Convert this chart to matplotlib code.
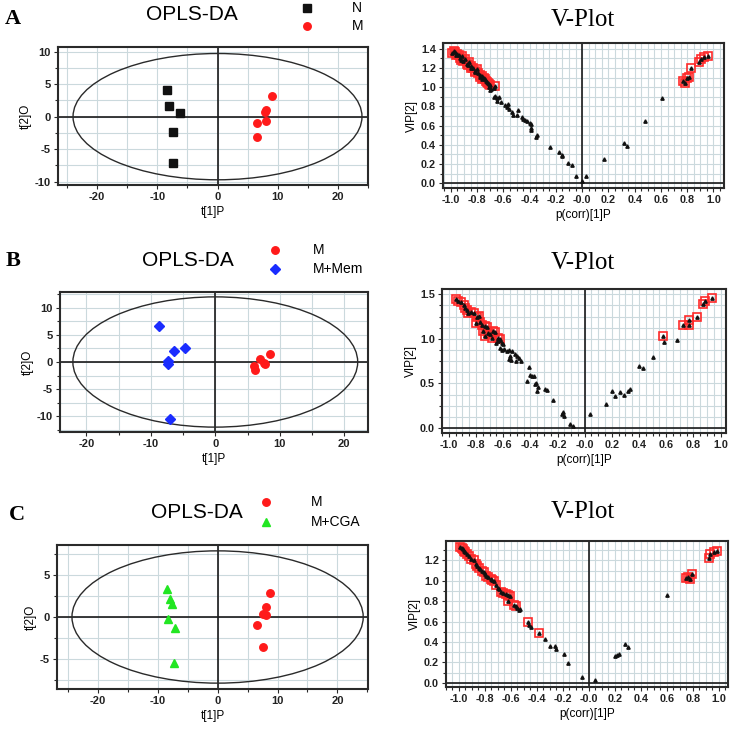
import numpy as np
import matplotlib
matplotlib.use('Agg')
import matplotlib.pyplot as plt
from matplotlib.patches import Ellipse
from matplotlib.lines import Line2D
from matplotlib.ticker import MultipleLocator

plt.rcParams['font.family'] = ['Liberation Sans', 'DejaVu Sans']
plt.rcParams['axes.unicode_minus'] = False

# ---------- OPLS-DA score plots: t[1]P (x) vs t[2]O (y) ----------
# A: N vs M
a_n_x = [-8.4, -8.1, -6.3, -7.4, -7.4]
a_n_y = [4.1, 1.6, 0.5, -2.4, -7.1]
a_m_x = [9.1, 8.1, 7.9, 8.0, 6.5, 6.5]
a_m_y = [3.2, 1.0, 0.7, -0.7, -0.9, -3.1]
# B: M vs M+Mem
b_m_x = [7.0, 8.5, 7.6, 7.7, 6.0, 6.2]
b_m_y = [0.6, 1.5, -0.2, -0.4, -0.8, -1.4]
b_mem_x = [-8.7, -6.4, -4.7, -7.3, -7.3, -7.1]
b_mem_y = [6.6, 2.0, 2.6, 0.2, -0.4, -10.5]
# C: M vs M+CGA
c_m_x = [8.7, 8.1, 7.5, 8.1, 6.6, 7.6]
c_m_y = [2.9, 1.2, 0.3, 0.2, -1.0, -3.6]
c_cga_x = [-8.4, -7.9, -7.6, -8.2, -7.1, -7.3]
c_cga_y = [3.3, 2.2, 1.6, -0.2, -1.35, -5.5]

# Hotelling T2 ellipse semi-axes (t[1], t[2]) for A, B, C
ell_a = [24.0, 22.1, 24.3]
ell_b = [9.7, 12.0, 7.9]

score_xticks = [-20, -10, 0, 10, 20]
a_yticks = [-10, -5, 0, 5, 10]
b_yticks = [-10, -5, 0, 5, 10]
c_yticks = [-5, 0, 5]

# ---------- V-plots: p(corr)[1]P (x) vs VIP[2] (y) ----------
# red-boxed (selected) variables
va_sel_x = [-0.98, -0.99, -0.97, -0.96, -0.955, -0.94, -0.93, -0.92, -0.915, -0.905,
            -0.89, -0.88, -0.87, -0.865, -0.85, -0.845, -0.83, -0.82, -0.815, -0.80,
            -0.79, -0.78, -0.775, -0.765, -0.76, -0.75, -0.74, -0.73, -0.725, -0.72,
            -0.71, -0.70, -0.665,
            0.77, 0.785, 0.80, 0.81, 0.83, 0.89, 0.905, 0.93, 0.96]
va_sel_y = [1.38, 1.36, 1.37, 1.33, 1.35, 1.34, 1.30, 1.28, 1.32, 1.27,
            1.29, 1.24, 1.23, 1.26, 1.20, 1.22, 1.20, 1.16, 1.17, 1.19,
            1.15, 1.11, 1.13, 1.12, 1.08, 1.10, 1.08, 1.06, 1.05, 1.04,
            1.03, 1.02, 1.01,
            1.06, 1.04, 1.10, 1.11, 1.20, 1.26, 1.29, 1.31, 1.32]
va_oth_x = [-0.71, -0.695, -0.675, -0.70, -0.665, -0.65, -0.635, -0.67, -0.645, -0.615,
            -0.585, -0.565, -0.575, -0.555, -0.535, -0.49, -0.50, -0.525, -0.46, -0.45,
            -0.435, -0.42, -0.40, -0.39, -0.39, -0.39, -0.345, -0.35, -0.245, -0.175,
            -0.155, -0.15, -0.105, -0.08, -0.05, -0.005, 0.03, 0.165, 0.32, 0.345,
            0.475, 0.61]
va_oth_y = [1.00, 0.98, 0.99, 0.97, 0.91, 0.89, 0.90, 0.90, 0.86, 0.845,
            0.81, 0.82, 0.79, 0.775, 0.74, 0.76, 0.71, 0.71, 0.69, 0.67,
            0.66, 0.65, 0.63, 0.62, 0.57, 0.55, 0.50, 0.48, 0.38, 0.33,
            0.29, 0.28, 0.21, 0.19, 0.08, 0.02, 0.08, 0.255, 0.42, 0.39,
            0.65, 0.89]

vb_sel_x = [-0.95, -0.935, -0.91, -0.89, -0.88, -0.865, -0.855, -0.835, -0.815, -0.795,
            -0.78, -0.77, -0.80, -0.755, -0.73, -0.72, -0.745, -0.715, -0.695, -0.675,
            -0.66, -0.635, -0.625, -0.685, -0.73,
            0.58, 0.726, 0.77, 0.765, 0.83, 0.871, 0.889, 0.939]
vb_sel_y = [1.45, 1.42, 1.41, 1.38, 1.345, 1.325, 1.29, 1.30, 1.29, 1.25,
            1.26, 1.195, 1.18, 1.16, 1.14, 1.13, 1.085, 1.065, 1.05, 1.085,
            1.08, 1.01, 1.00, 1.01, 1.03,
            1.03, 1.16, 1.16, 1.21, 1.25, 1.39, 1.43, 1.46]
vb_oth_x = [-0.64, -0.62, -0.635, -0.61, -0.60, -0.65, -0.62, -0.595, -0.61, -0.575,
            -0.555, -0.535, -0.51, -0.50, -0.55, -0.56, -0.545, -0.505, -0.48, -0.465,
            -0.41, -0.40, -0.39, -0.375, -0.425, -0.355, -0.365, -0.34, -0.35, -0.29,
            -0.28, -0.23, -0.17, -0.16, -0.155, -0.11, -0.085,
            0.04, 0.16, 0.20, 0.22, 0.26, 0.29, 0.32, 0.33, 0.40, 0.43,
            0.50, 0.585, 0.68]
vb_oth_y = [1.00, 0.99, 0.975, 0.955, 0.94, 0.95, 0.90, 0.89, 0.87, 0.865,
            0.88, 0.865, 0.835, 0.81, 0.81, 0.77, 0.76, 0.75, 0.79, 0.75,
            0.68, 0.60, 0.585, 0.585, 0.53, 0.51, 0.49, 0.455, 0.41, 0.435,
            0.425, 0.315, 0.16, 0.185, 0.14, 0.05, 0.02,
            0.16, 0.27, 0.42, 0.36, 0.40, 0.37, 0.41, 0.44, 0.70, 0.67,
            0.80, 0.965, 0.985]

vc_sel_x = [-0.99, -0.98, -0.97, -0.96, -0.95, -0.935, -0.92, -0.905, -0.885, -0.87,
            -0.86, -0.845, -0.825, -0.81, -0.795, -0.775, -0.755, -0.745, -0.73, -0.715,
            -0.68, -0.66, -0.64, -0.62, -0.61, -0.62, -0.575, -0.565, -0.47, -0.385,
            0.745, 0.765, 0.78, 0.795, 0.92, 0.935, 0.96, 0.985]
vc_sel_y = [1.33, 1.325, 1.31, 1.29, 1.28, 1.265, 1.24, 1.215, 1.20, 1.165,
            1.15, 1.13, 1.10, 1.085, 1.05, 1.035, 1.02, 1.01, 1.00, 0.955,
            0.89, 0.88, 0.875, 0.86, 0.85, 0.80, 0.76, 0.75, 0.60, 0.49,
            1.03, 1.035, 1.02, 1.07, 1.225, 1.26, 1.28, 1.29]
vc_oth_x = [-0.84, -0.80, -0.70, -0.69, -0.55, -0.54, -0.53, -0.46, -0.445, -0.335,
            -0.30, -0.265, -0.255, -0.195, -0.16, -0.05, 0.045, 0.20, 0.215, 0.23,
            0.275, 0.30, 0.60]
vc_oth_y = [1.12, 1.07, 0.93, 0.92, 0.73, 0.71, 0.72, 0.565, 0.55, 0.435,
            0.36, 0.36, 0.335, 0.285, 0.195, 0.06, 0.025, 0.265, 0.275, 0.28,
            0.38, 0.355, 0.86]

v_xticks = [-1.0, -0.8, -0.6, -0.4, -0.2, 0.0, 0.2, 0.4, 0.6, 0.8, 1.0]
v_xlabels = ['-1.0', '-0.8', '-0.6', '-0.4', '-0.2', '-0.0', '0.2', '0.4', '0.6', '0.8', '1.0']
va_yticks = [0.0, 0.2, 0.4, 0.6, 0.8, 1.0, 1.2, 1.4]
vb_yticks = [0.0, 0.5, 1.0, 1.5]
vc_yticks = [0.0, 0.2, 0.4, 0.6, 0.8, 1.0, 1.2]

W = 733
fig = plt.figure(figsize=(7.33, 7.33), dpi=100)
grid_col = '#cbd9dd'
frame_col = '#2a2a2a'


def px_rect(l, t, r, b):
    return [l / W, 1 - b / W, (r - l) / W, (b - t) / W]


def style(ax):
    for s in ax.spines.values():
        s.set_color(frame_col)
        s.set_linewidth(1.5)
    ax.tick_params(which='both', direction='out', color=frame_col, width=0.8, pad=2)
    ax.tick_params(which='major', length=3)
    ax.tick_params(which='minor', length=2)
    ax.grid(which='both', color=grid_col, lw=0.8)
    ax.set_axisbelow(True)
    ax.axhline(0, color='#1a1a1a', lw=1.2, zorder=1.5)
    ax.axvline(0, color='#1a1a1a', lw=1.2, zorder=1.5)


def score_plot(rect, groups, ea, eb, xlim, ylim, yticks):
    ax = fig.add_axes(rect)
    ax.set_xlim(xlim)
    ax.set_ylim(ylim)
    ax.xaxis.set_minor_locator(MultipleLocator(5))
    ax.yaxis.set_minor_locator(MultipleLocator(2.5))
    style(ax)
    ax.add_patch(Ellipse((0, 0), 2 * ea, 2 * eb, fill=False, ec='#2a2a2a', lw=1.0, zorder=2))
    for xs, ys, mk, col, ms in groups:
        ax.plot(xs, ys, ls='none', marker=mk, color=col, ms=ms, zorder=3)
    ax.set_xticks(score_xticks, [str(v) for v in score_xticks], fontweight='bold', fontsize=8, color='#222')
    ax.set_yticks(yticks, [str(v) for v in yticks], fontweight='bold', fontsize=8, color='#222')
    ax.set_xlabel('t[1]P', fontsize=8.5, labelpad=3)
    ax.set_ylabel('t[2]O', fontsize=8.5, labelpad=2)
    return ax


def v_plot(rect, sx, sy, ox, oy, xlim, ylim, yticks, ygrid):
    ax = fig.add_axes(rect)
    ax.set_xlim(xlim)
    ax.set_ylim(ylim)
    ax.xaxis.set_minor_locator(MultipleLocator(0.05))
    ax.yaxis.set_minor_locator(MultipleLocator(ygrid))
    style(ax)
    ax.plot(sx, sy, ls='none', marker='s', ms=5.8, mfc='none', mec='#ff2a2a', mew=1.2, zorder=3)
    ax.plot(ox + sx, oy + sy, ls='none', marker='^', ms=2.4, color='#111111', zorder=4)
    ax.set_xticks(v_xticks, v_xlabels, fontweight='bold', fontsize=7.8, color='#222')
    ax.set_yticks(yticks, ['%.1f' % v for v in yticks], fontweight='bold', fontsize=7.8, color='#222')
    ax.set_xlabel('p(corr)[1]P', fontsize=8.5, labelpad=3)
    ax.set_ylabel('VIP[2]', fontsize=8.5, labelpad=2)
    return ax


def legend_entry(x, y, mk, col, ms, label, tx):
    fig.add_artist(Line2D([x / W], [1 - y / W], transform=fig.transFigure,
                          marker=mk, color=col, ms=ms, ls='none'))
    fig.text(tx / W, 1 - y / W, label, fontsize=10, ha='left', va='center')


# ---- row A ----
score_plot(px_rect(58, 47, 368, 185),
           [(a_n_x, a_n_y, 's', '#111111', 5.8), (a_m_x, a_m_y, 'o', '#ff1a1a', 5.4)],
           ell_a[0], ell_b[0], (-26.5, 25), (-10.5, 10.7), a_yticks)
v_plot(px_rect(443, 43, 724, 188), va_sel_x, va_sel_y, va_oth_x, va_oth_y,
       (-1.06, 1.08), (-0.05, 1.46), va_yticks, 0.1)

# ---- row B ----
score_plot(px_rect(60, 292, 368, 432),
           [(b_m_x, b_m_y, 'o', '#ff1a1a', 5.4), (b_mem_x, b_mem_y, 'D', '#1a2cff', 5.2)],
           ell_a[1], ell_b[1], (-24.1, 23.7), (-12.9, 12.9), b_yticks)
v_plot(px_rect(442, 289, 726, 433), vb_sel_x, vb_sel_y, vb_oth_x, vb_oth_y,
       (-1.05, 1.04), (-0.056, 1.56), vb_yticks, 0.125)

# ---- row C ----
score_plot(px_rect(57, 545, 368, 689),
           [(c_m_x, c_m_y, 'o', '#ff1a1a', 5.4), (c_cga_x, c_cga_y, '^', '#22e622', 6.2)],
           ell_a[2], ell_b[2], (-26.8, 25.1), (-8.6, 8.6), c_yticks)
v_plot(px_rect(446, 541, 728, 687), vc_sel_x, vc_sel_y, vc_oth_x, vc_oth_y,
       (-1.10, 1.07), (-0.04, 1.39), vc_yticks, 0.1)

# ---- titles, panel letters, legends ----
for lx, ly, letter in [(13, 19, 'A'), (13, 261, 'B'), (17, 515, 'C')]:
    fig.text(lx / W, 1 - ly / W, letter, family='Liberation Serif', weight='bold',
             fontsize=16, ha='center', va='center')

for tx, ty in [(192, 15), (188, 260), (197, 513)]:
    fig.text(tx / W, 1 - ty / W, 'OPLS-DA', fontsize=15, ha='center', va='center')

for tx, ty in [(583, 20), (583, 263), (583, 512)]:
    fig.text(tx / W, 1 - ty / W, 'V-Plot', family='Liberation Serif', fontsize=18,
             ha='center', va='center')

legend_entry(307, 8, 's', '#111111', 5.8, 'N', 352)
legend_entry(307, 26, 'o', '#ff1a1a', 5.4, 'M', 352)
legend_entry(275, 250, 'o', '#ff1a1a', 5.4, 'M', 313)
legend_entry(275, 269, 'D', '#1a2cff', 5.2, 'M+Mem', 313)
legend_entry(266, 502, 'o', '#ff1a1a', 5.4, 'M', 311)
legend_entry(266, 522, '^', '#22e622', 6.2, 'M+CGA', 311)

fig.savefig('out.png', dpi=100)
